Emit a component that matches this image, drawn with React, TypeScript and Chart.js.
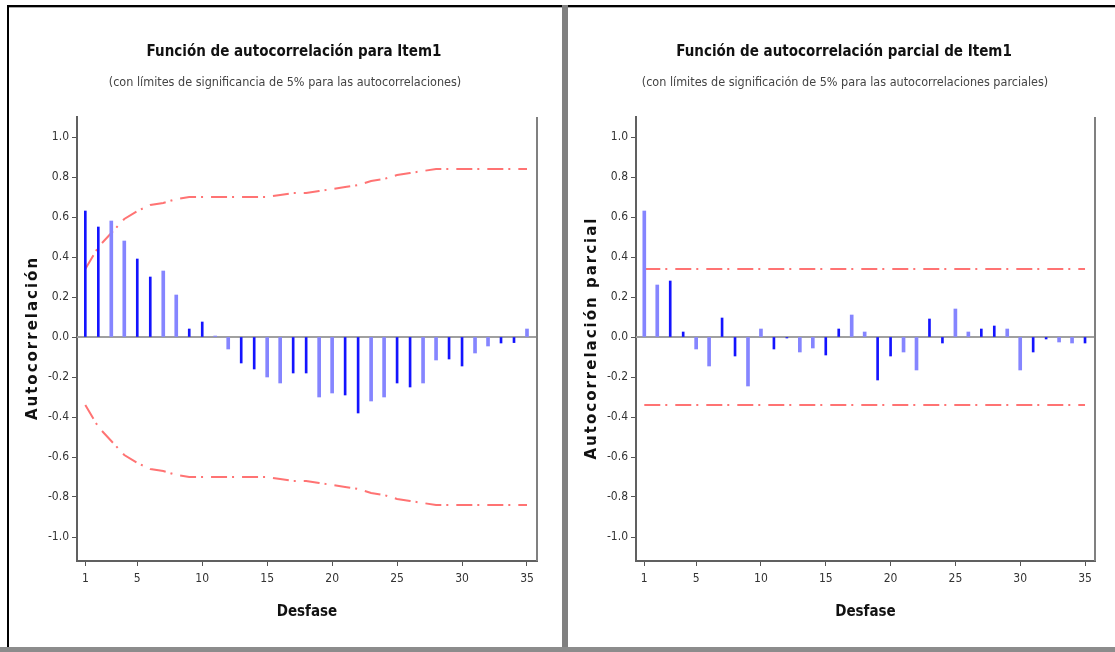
import React, { useEffect, useRef } from "react";
import { Chart, registerables } from "chart.js";

Chart.register(...registerables);

// ---------- data ----------
const lags = [1, 2, 3, 4, 5, 6, 7, 8, 9, 10, 11, 12, 13, 14, 15, 16, 17, 18, 19, 20, 21, 22, 23, 24, 25, 26, 27, 28, 29, 30, 31, 32, 33, 34, 35];

const acfValues = [0.63, 0.55, 0.58, 0.48, 0.39, 0.30, 0.33, 0.21, 0.04, 0.075, 0.005, -0.06, -0.13, -0.16, -0.2, -0.23, -0.18, -0.18, -0.3, -0.28, -0.29, -0.38, -0.32, -0.3, -0.23, -0.25, -0.23, -0.115, -0.11, -0.145, -0.08, -0.045, -0.03, -0.028, 0.04];

const acfLimit = [0.34, 0.45, 0.52, 0.59, 0.63, 0.66, 0.67, 0.69, 0.7, 0.7, 0.7, 0.7, 0.7, 0.7, 0.7, 0.71, 0.72, 0.72, 0.73, 0.74, 0.75, 0.76, 0.78, 0.79, 0.81, 0.82, 0.83, 0.84, 0.84, 0.84, 0.84, 0.84, 0.84, 0.84, 0.84];

const pacfValues = [0.63, 0.26, 0.28, 0.025, -0.06, -0.145, 0.095, -0.095, -0.245, 0.04, -0.06, -0.005, -0.075, -0.055, -0.09, 0.04, 0.11, 0.025, -0.215, -0.095, -0.075, -0.165, 0.09, -0.03, 0.14, 0.025, 0.04, 0.055, 0.04, -0.165, -0.075, -0.01, -0.025, -0.03, -0.03];

const pacfLimit = 0.34;

const yTicks = [-1.0, -0.8, -0.6, -0.4, -0.2, 0.0, 0.2, 0.4, 0.6, 0.8, 1.0];
const xTicks = [1, 5, 10, 15, 20, 25, 30, 35];

// ---------- styles ----------
const NARROW = "'Liberation Sans Narrow', 'DejaVu Sans Condensed', 'Roboto Condensed', 'Liberation Sans', sans-serif";
const WIDE = "'DejaVu Sans', 'Liberation Sans', sans-serif";
const DARK = "#1414ff";
const LIGHT = "#8585ff";
const LIMIT = "#ff7373";

const decorPlugin = {
  id: "decor",
  beforeDatasetsDraw(chart: any) {
    const { ctx, chartArea, scales } = chart;
    ctx.save();
    const y0 = scales.y.getPixelForValue(0);
    ctx.strokeStyle = "#a0a0a0";
    ctx.lineWidth = 2;
    ctx.beginPath();
    ctx.moveTo(chartArea.left, y0);
    ctx.lineTo(chartArea.right, y0);
    ctx.stroke();
    ctx.strokeStyle = "#808080";
    ctx.beginPath();
    ctx.moveTo(chartArea.right, chartArea.top);
    ctx.lineTo(chartArea.right, chartArea.bottom);
    ctx.stroke();
    ctx.restore();
  },
  afterDraw(chart: any, _a: any, opts: any) {
    const { ctx } = chart;
    ctx.save();
    ctx.textAlign = "center";
    ctx.textBaseline = "middle";
    ctx.fillStyle = "#111";
    ctx.font = `bold 15px ${NARROW}`;
    ctx.fillText(opts.title, opts.cx, opts.ty);
    ctx.fillStyle = "#444";
    ctx.font = `12.5px ${NARROW}`;
    ctx.fillText(opts.subtitle, opts.scx, opts.sy);
    // rotated y-axis title
    ctx.translate(opts.yx, opts.yy);
    ctx.rotate(-Math.PI / 2);
    ctx.fillStyle = "#111";
    ctx.font = `bold 15px ${WIDE}`;
    (ctx as any).letterSpacing = "2px";
    ctx.fillText(opts.yTitle, 0, 0);
    ctx.restore();
  },
};

type PanelProps = {
  width: number;
  height: number;
  values: number[];
  upper: number[];
  lower: number[];
  title: string;
  subtitle: string;
  yTitle: string;
  padRight: number;
  titleX: number;
  subtitleX: number;
  darkFirst: boolean;
};

function Panel(p: PanelProps) {
  const ref = useRef<HTMLCanvasElement | null>(null);
  useEffect(() => {
    if (!ref.current) return;
    const isDark = (i: number) => (Math.floor(i / 2) % 2 === 0) === p.darkFirst;
    const darkPts = lags.map((l, i) => ({ x: l, y: p.values[i] })).filter((_, i) => isDark(i));
    const lightPts = lags.map((l, i) => ({ x: l, y: p.values[i] })).filter((_, i) => !isDark(i));
    const gridOpts = {
      display: true,
      offset: false,
      drawOnChartArea: false,
      drawTicks: true,
      tickLength: 5,
      tickColor: "#555",
      tickWidth: 1,
    };
    const chart = new Chart(ref.current, {
      type: "bar",
      data: {
        datasets: [
          { type: "bar", data: darkPts as any, backgroundColor: DARK, barThickness: 2, grouped: false } as any,
          { type: "bar", data: lightPts as any, backgroundColor: LIGHT, barThickness: 3, grouped: false } as any,
          {
            type: "line",
            data: lags.map((l, i) => ({ x: l, y: p.upper[i] })) as any,
            borderColor: LIMIT,
            borderWidth: 2,
            borderDash: [16, 5, 2, 8],
            pointRadius: 0,
            fill: false,
            tension: 0,
          } as any,
          {
            type: "line",
            data: lags.map((l, i) => ({ x: l, y: p.lower[i] })) as any,
            borderColor: LIMIT,
            borderWidth: 2,
            borderDash: [16, 5, 2, 8],
            pointRadius: 0,
            fill: false,
            tension: 0,
          } as any,
        ],
      },
      options: {
        responsive: false,
        animation: false,
        devicePixelRatio: 1,
        layout: { padding: { left: 0, right: p.padRight, top: 109, bottom: 0 } },
        plugins: {
          legend: { display: false },
          tooltip: { enabled: false },
          title: { display: false },
          decor: {
            title: p.title,
            subtitle: p.subtitle,
            yTitle: p.yTitle,
            cx: p.titleX,
            scx: p.subtitleX,
            ty: 44,
            sy: 75,
            yx: 24,
            yy: 330,
          },
        } as any,
        scales: {
          x: {
            type: "linear",
            min: 0.36,
            max: 35.77,
            offset: false,
            afterBuildTicks: (s: any) => {
              s.ticks = xTicks.map((v) => ({ value: v }));
            },
            afterFit: (s: any) => {
              s.height = 86;
            },
            grid: gridOpts,
            border: { display: true, color: "#606060", width: 2 },
            ticks: {
              padding: 6,
              color: "#333",
              font: { family: NARROW, size: 12 },
              maxRotation: 0,
              autoSkip: false,
              callback: (v: any) => String(v),
            },
            title: {
              display: true,
              text: "Desfase",
              color: "#111",
              font: { family: NARROW, size: 15, weight: "bold" },
              padding: { top: 0, bottom: 26 },
            },
          },
          y: {
            type: "linear",
            min: -1.12,
            max: 1.1,
            afterBuildTicks: (s: any) => {
              s.ticks = yTicks.map((v) => ({ value: v }));
            },
            afterFit: (s: any) => {
              s.width = 68;
            },
            grid: gridOpts,
            border: { display: true, color: "#606060", width: 2 },
            ticks: {
              padding: 3,
              color: "#333",
              font: { family: NARROW, size: 12 },
              autoSkip: false,
              callback: (v: any) => Number(v).toFixed(1),
            },
            title: { display: false },
          },
        },
      },
      plugins: [decorPlugin as any],
    });
    return () => chart.destroy();
  }, []);
  return <canvas ref={ref} width={p.width} height={p.height} style={{ width: p.width, height: p.height, display: "block" }} />;
}

export default function App() {
  const acfLower = acfLimit.map((v) => -v);
  const pacfUpper = lags.map(() => pacfLimit);
  const pacfLower = lags.map(() => -pacfLimit);
  return (
    <div style={{ position: "absolute", left: 0, top: 0, width: 1115, height: 652, background: "#fff", overflow: "hidden" }}>
      <div style={{ position: "absolute", left: 7, top: 5, width: 1108, height: 2, background: "#000" }} />
      <div style={{ position: "absolute", left: 9, top: 7, width: 1106, height: 1, background: "#aaa" }} />
      <div style={{ position: "absolute", left: 7, top: 5, width: 2, height: 647, background: "#000" }} />
      <div style={{ position: "absolute", left: 562, top: 5, width: 6, height: 647, background: "#808080" }} />
      <div style={{ position: "absolute", left: 0, top: 647, width: 1115, height: 5, background: "#8c8c8c" }} />
      <div style={{ position: "absolute", left: 9, top: 8 }}>
        <Panel
          width={553}
          height={639}
          values={acfValues}
          upper={acfLimit}
          lower={acfLower}
          title="Función de autocorrelación para Item1"
          subtitle="(con límites de significancia de 5% para las autocorrelaciones)"
          yTitle="Autocorrelación"
          padRight={25}
          titleX={285}
          subtitleX={276}
          darkFirst={true}
        />
      </div>
      <div style={{ position: "absolute", left: 568, top: 8 }}>
        <Panel
          width={547}
          height={639}
          values={pacfValues}
          upper={pacfUpper}
          lower={pacfLower}
          title="Función de autocorrelación parcial de Item1"
          subtitle="(con límites de significación de 5% para las autocorrelaciones parciales)"
          yTitle="Autocorrelación parcial"
          padRight={20}
          titleX={276}
          subtitleX={277}
          darkFirst={false}
        />
      </div>
    </div>
  );
}
